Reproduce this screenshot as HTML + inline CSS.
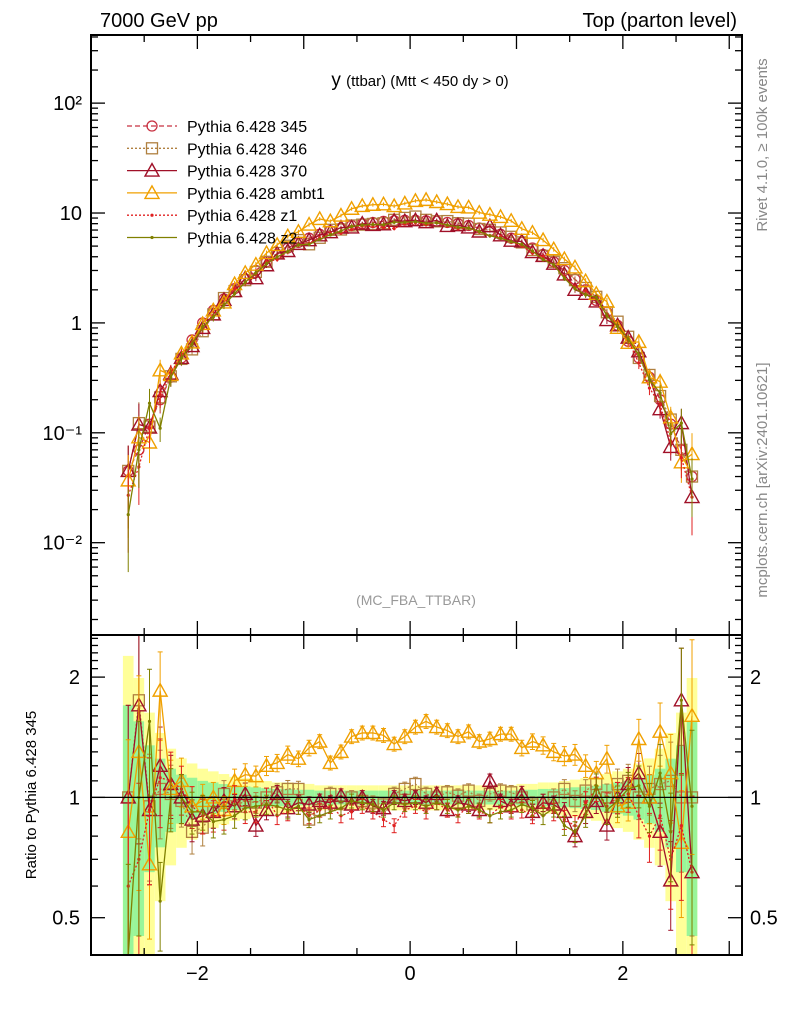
<!DOCTYPE html>
<html><head><meta charset="utf-8"><style>
html,body{margin:0;padding:0;background:#fff;}
svg text{font-family:"Liberation Sans","DejaVu Sans",sans-serif;}
</style></head><body>
<svg id="chart" width="786" height="1024" xmlns="http://www.w3.org/2000/svg">
<text x="100" y="27" font-size="20">7000 GeV pp</text>
<text x="737" y="27" font-size="20" text-anchor="end">Top (parton level)</text>
<text x="420" y="86" font-size="19" text-anchor="middle">y <tspan font-size="15">(ttbar) (Mtt &lt; 450 dy &gt; 0)</tspan></text>
<text transform="translate(767,145) rotate(-90)" font-size="15" fill="#888" text-anchor="middle">Rivet 4.1.0, ≥ 100k events</text>
<text transform="translate(767,480) rotate(-90)" font-size="15" fill="#888" text-anchor="middle">mcplots.cern.ch [arXiv:2401.10621]</text>
<text x="416" y="605" font-size="14" fill="#999" text-anchor="middle">(MC_FBA_TTBAR)</text>
<text transform="translate(36,795) rotate(-90)" font-size="15" text-anchor="middle">Ratio to Pythia 6.428 345</text>
<g id="bands"></g><g id="series"></g><g id="axes"></g><g id="legend"></g>
</svg>
<script>
const centers=[-2.65,-2.55,-2.45,-2.35,-2.25,-2.15,-2.05,-1.95,-1.85,-1.75,-1.65,-1.55,-1.45,-1.35,-1.25,-1.15,-1.05,-0.95,-0.85,-0.75,-0.65,-0.55,-0.45,-0.35,-0.25,-0.15,-0.05,0.05,0.15,0.25,0.35,0.45,0.55,0.65,0.75,0.85,0.95,1.05,1.15,1.25,1.35,1.45,1.55,1.65,1.75,1.85,1.95,2.05,2.15,2.25,2.35,2.45,2.55,2.65];
const base345=[0.045,0.07,0.12,0.2,0.32,0.48,0.7,1.0,1.3,1.65,2.05,2.5,3.0,3.6,4.2,4.8,5.4,5.9,6.4,6.9,7.3,7.7,8.0,8.2,8.4,8.5,8.6,8.6,8.5,8.4,8.2,8.0,7.7,7.3,6.9,6.4,5.9,5.4,4.8,4.2,3.6,3.0,2.5,2.0,1.6,1.25,0.95,0.68,0.48,0.32,0.2,0.12,0.07,0.04];
const relErr=[0.7,0.55,0.35,0.25,0.18,0.14,0.12,0.1,0.09,0.08,0.07,0.065,0.06,0.055,0.05,0.05,0.045,0.045,0.04,0.04,0.04,0.04,0.04,0.04,0.04,0.04,0.04,0.04,0.04,0.04,0.04,0.04,0.04,0.04,0.04,0.04,0.04,0.045,0.045,0.05,0.05,0.055,0.06,0.065,0.07,0.08,0.09,0.1,0.12,0.14,0.18,0.25,0.35,0.55];
const r346=[1.0,1.75,0.95,1.05,1.02,0.98,0.82,0.84,0.92,1.02,0.95,0.98,0.97,1.0,1.03,1.05,1.05,0.88,0.93,1.02,0.97,1.0,0.98,0.97,0.96,1.02,1.05,1.08,1.02,1.0,1.03,1.01,1.04,0.98,1.02,1.04,1.03,1.0,0.96,0.97,1.0,1.05,0.98,1.04,1.08,1.0,1.08,1.1,1.0,1.05,1.08,1.1,1.0,1.0];
const r370=[1.0,1.7,0.93,1.2,1.08,1.0,0.88,0.9,0.92,0.98,0.95,1.02,0.85,0.93,1.02,0.94,0.97,0.96,0.98,0.97,1.01,0.96,1.0,0.95,0.94,1.0,0.98,1.0,0.97,1.02,0.93,0.97,0.96,0.93,1.1,0.98,0.95,1.02,0.92,0.97,0.96,0.92,0.8,0.92,0.98,0.85,1.0,1.08,1.15,1.0,0.82,0.62,1.75,0.65];
const rAmbt1=[0.82,1.3,0.68,1.85,1.05,1.1,0.95,0.98,1.0,0.93,1.1,1.14,1.13,1.2,1.22,1.28,1.25,1.33,1.38,1.22,1.3,1.42,1.45,1.45,1.43,1.36,1.42,1.5,1.55,1.5,1.47,1.42,1.46,1.38,1.4,1.44,1.44,1.33,1.38,1.35,1.3,1.27,1.28,1.2,1.15,1.25,0.95,0.97,1.4,1.0,1.46,1.15,0.77,1.6];
const rZ1=[0.6,0.7,0.93,1.12,1.1,1.05,0.95,0.9,0.9,0.9,1.0,0.92,0.92,1.0,0.9,0.92,0.95,0.9,0.93,0.95,0.9,0.92,0.95,0.92,0.88,0.85,0.93,0.95,0.92,0.97,0.93,0.9,0.95,0.92,0.9,0.95,0.92,0.93,0.9,0.95,0.92,0.88,0.85,0.97,1.05,0.95,1.0,1.02,0.9,0.8,0.9,0.7,0.85,0.65];
const rZ2=[0.4,1.0,1.55,0.55,1.0,1.0,0.92,0.92,0.87,0.88,0.9,0.94,0.95,0.96,0.95,0.93,0.95,0.88,0.9,0.92,0.94,0.98,0.97,0.96,0.93,0.97,0.96,0.97,0.95,0.97,0.95,0.93,0.95,0.93,0.9,0.92,0.93,0.96,0.94,0.9,0.94,0.85,0.82,0.9,1.07,0.93,0.98,1.05,1.07,0.95,1.15,0.82,1.75,0.95];
const mainYTicks=[0.01,0.1,1,10,100];
const mainYLabels=["10⁻²","10⁻¹","1","10","10²"];
const ratioTicks=[0.5,1,2];
const xTicks=[-2,0,2];

const NS="http://www.w3.org/2000/svg";
const X0=91,X1=742,xmin=-3.0,xmax=3.12;
const MT=35,MB=635,lmin=-2.84,lmax=2.62;
const RT=635,RB=955,rlmin=-1.31,rlmax=1.35;
const sx=v=>X0+(v-xmin)/(xmax-xmin)*(X1-X0);
const sy=v=>MT+(lmax-Math.log10(Math.max(v,1e-6)))/(lmax-lmin)*(MB-MT);
const sr=v=>{let l=Math.log2(Math.max(v,1e-3));return RT+(rlmax-l)/(rlmax-rlmin)*(RB-RT);};
const clampM=y=>Math.min(MB,Math.max(MT,y)), clampR=y=>Math.min(RB,Math.max(RT,y));
function el(tag,attrs,parent){const e=document.createElementNS(NS,tag);for(const k in attrs)e.setAttribute(k,attrs[k]);parent.appendChild(e);return e;}
const bands=document.getElementById('bands'),series=document.getElementById('series'),axes=document.getElementById('axes'),legend=document.getElementById('legend');
const bw=0.1;
centers.forEach((c,i)=>{
  const x0=sx(c-bw/2),x1=sx(c+bw/2);
  const ey=relErr[i]*1.8, eg=relErr[i];
  const y=el('rect',{x:x0,y:clampR(sr(1+ey)),width:x1-x0,height:clampR(sr(Math.max(1-ey,0.01)))-clampR(sr(1+ey)),fill:'#ffff99'},bands);
  
  
  const g=el('rect',{x:x0,y:clampR(sr(1+eg)),width:x1-x0,height:clampR(sr(Math.max(1-eg,0.01)))-clampR(sr(1+eg)),fill:'#99f599'},bands);
  
  
});
const defs=[
 {name:'pythia-345',label:'Pythia 6.428 345',color:'#c83040',dash:'5,3',marker:'circle',r:centers.map(()=>1)},
 {name:'pythia-346',label:'Pythia 6.428 346',color:'#b08040',dash:'2,2',marker:'square',r:r346},
 {name:'pythia-370',label:'Pythia 6.428 370',color:'#a01028',dash:'',marker:'triangle',r:r370},
 {name:'pythia-ambt1',label:'Pythia 6.428 ambt1',color:'#f0a000',dash:'',marker:'triangle',r:rAmbt1},
 {name:'pythia-z1',label:'Pythia 6.428 z1',color:'#e02020',dash:'2,2',marker:'dot',r:rZ1},
 {name:'pythia-z2',label:'Pythia 6.428 z2',color:'#808000',dash:'',marker:'dot',r:rZ2}
];
function marker(type,x,y,color,parent){
  let m;
  if(type==='circle')m=el('circle',{cx:x,cy:y,r:5,fill:'none',stroke:color,'stroke-width':1.3},parent);
  else if(type==='square')m=el('rect',{x:x-5.5,y:y-5.5,width:11,height:11,fill:'none',stroke:color,'stroke-width':1.3},parent);
  else if(type==='triangle')m=el('polygon',{points:`${x},${y-7} ${x-7},${y+5.5} ${x+7},${y+5.5}`,fill:'none',stroke:color,'stroke-width':1.4},parent);
  else m=el('circle',{cx:x,cy:y,r:1.6,fill:color},parent);
  return m;
}
defs.forEach(d=>{
  const g=el('g',{},series);
  
  
  let pm=[],pr=[];
  centers.forEach((c,i)=>{
    const v=base345[i]*d.r[i], x=sx(c);
    const e=relErr[i]*d.r[i];
    const ym=sy(v), yr=sr(d.r[i]);
    pm.push(`${x},${clampM(ym)}`); pr.push(`${x},${clampR(yr)}`);
    el('line',{x1:x,x2:x,y1:clampM(sy(v*(1+relErr[i]))),y2:clampM(sy(v*Math.max(1-relErr[i],0.001))),stroke:d.color,'stroke-width':1},g);
    if(d.name!=='pythia-345'){
      el('line',{x1:x,x2:x,y1:clampR(sr(d.r[i]+e)),y2:clampR(sr(Math.max(d.r[i]-e,0.01))),stroke:d.color,'stroke-width':1},g);
      el('line',{x1:x-2.5,x2:x+2.5,y1:clampR(sr(d.r[i]+e)),y2:clampR(sr(d.r[i]+e)),stroke:d.color,'stroke-width':1},g);
      el('line',{x1:x-2.5,x2:x+2.5,y1:clampR(sr(Math.max(d.r[i]-e,0.01))),y2:clampR(sr(Math.max(d.r[i]-e,0.01))),stroke:d.color,'stroke-width':1},g);
    }
    const m=marker(d.marker,x,ym,d.color,g);
    
    
    if(d.name!=='pythia-345' && yr>RT && yr<RB){
      const m2=marker(d.marker,x,yr,d.color,g);
      
      
    }
  });
  const l1=el('polyline',{points:pm.join(' '),fill:'none',stroke:d.color,'stroke-width':1.3,'stroke-dasharray':d.dash},g);
  
  
  if(d.name!=='pythia-345'){
    const l2=el('polyline',{points:pr.join(' '),fill:'none',stroke:d.color,'stroke-width':1.3,'stroke-dasharray':d.dash},g);
    
    
  }
});
const ref=el('line',{x1:X0,x2:X1,y1:sr(1),y2:sr(1),stroke:'#000','stroke-width':1.2},axes);


const f1=el('rect',{x:X0,y:MT,width:X1-X0,height:MB-MT,fill:'none',stroke:'#000','stroke-width':2},axes);


const f2=el('rect',{x:X0,y:RT,width:X1-X0,height:RB-RT,fill:'none',stroke:'#000','stroke-width':2},axes);


for(let t=-3;t<=3.01;t+=0.5){
  const x=sx(t), big=Math.abs(t-Math.round(t))<1e-6, L=big?14:7;
  [[MT,1],[MB,-1],[RT,1],[RB,-1]].forEach(([y,s])=>el('line',{x1:x,x2:x,y1:y,y2:y+s*L,stroke:'#000','stroke-width':1.3},axes));
}
xTicks.forEach(t=>{const tx=el('text',{x:sx(t),y:980,'font-size':20,'text-anchor':'middle'},axes);tx.textContent=t<0?'−'+Math.abs(t):String(t);
});
for(let p=-3;p<=2;p++){for(let k=1;k<10;k++){const v=k*Math.pow(10,p);const y=sy(v);if(y<MT||y>MB)continue;const L=k===1?14:7;
 el('line',{x1:X0,x2:X0+L,y1:y,y2:y,stroke:'#000','stroke-width':1.3},axes);el('line',{x1:X1,x2:X1-L,y1:y,y2:y,stroke:'#000','stroke-width':1.3},axes);}}
mainYTicks.forEach((v,i)=>{const tx=el('text',{x:82,y:sy(v)+7,'font-size':20,'text-anchor':'end'},axes);tx.textContent=mainYLabels[i];
});
[0.4,0.5,0.6,0.7,0.8,0.9,1,1.1,1.2,1.3,1.4,1.5,1.6,1.7,1.8,1.9,2,2.1,2.2,2.3,2.4,2.5].forEach(v=>{const y=sr(v);if(y<RT||y>RB)return;const L=ratioTicks.includes(v)?14:7;
 el('line',{x1:X0,x2:X0+L,y1:y,y2:y,stroke:'#000','stroke-width':1.3},axes);el('line',{x1:X1,x2:X1-L,y1:y,y2:y,stroke:'#000','stroke-width':1.3},axes);});
ratioTicks.forEach(v=>{const a=el('text',{x:80,y:sr(v)+7,'font-size':20,'text-anchor':'end'},axes);a.textContent=String(v);

const b=el('text',{x:750,y:sr(v)+7,'font-size':20},axes);b.textContent=String(v);
});
defs.forEach((d,i)=>{const y=126+i*22.3;const g=el('g',{},legend);
 
 
 el('line',{x1:127,x2:177,y1:y,y2:y,stroke:d.color,'stroke-width':1.3,'stroke-dasharray':d.dash},g);
 marker(d.marker,152,y,d.color,g);
 const t=el('text',{x:187,y:y+6,'font-size':16},g);t.textContent=d.label;});
</script>
</body></html>
